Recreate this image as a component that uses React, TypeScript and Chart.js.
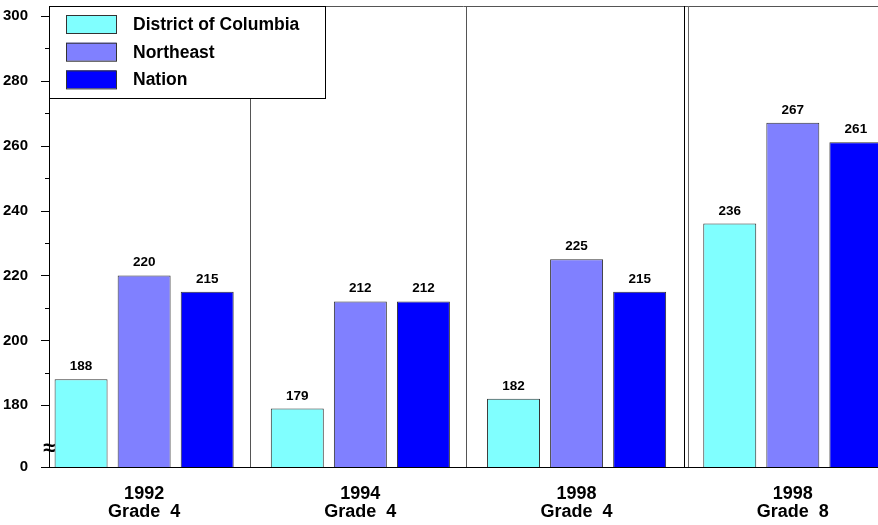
import React, { useEffect, useRef } from "react";
import { Chart, registerables } from "chart.js";

Chart.register(...registerables);

const years = ["1992", "1994", "1998", "1998"];
const grades = ["Grade  4", "Grade  4", "Grade  4", "Grade  8"];
const seriesNames = ["District of Columbia", "Northeast", "Nation"];
const dcValues = [188, 179, 182, 236];
const northeastValues = [220, 212, 225, 267];
const nationValues = [215, 212, 215, 261];
const seriesColors = ["#80FFFF", "#8080FF", "#0000FF"];
const yTickValues = [161, 180, 190, 200, 210, 220, 230, 240, 250, 260, 270, 280, 290, 300];
const yZeroValue = 161;

const FONT = "'Liberation Sans', Arial, Helvetica, sans-serif";

function zeroPadding(scale: any) {
  scale.paddingLeft = 0;
  scale.paddingRight = 0;
  scale.paddingTop = 0;
  scale.paddingBottom = 0;
}

export default function App() {
  const ref = useRef<HTMLCanvasElement | null>(null);

  useEffect(() => {
    document.body.style.margin = "0";
    const canvas = ref.current;
    if (!canvas) return;

    const series = [dcValues, northeastValues, nationValues];

    const decor = {
      id: "decor",
      beforeDatasetsDraw(chart: any) {
        const { ctx, chartArea, scales } = chart;
        const x = scales.x;
        ctx.save();
        ctx.strokeStyle = "#555";
        ctx.lineWidth = 1;
        ctx.beginPath();
        ctx.moveTo(chartArea.left, chartArea.top + 0.5);
        ctx.lineTo(chartArea.right, chartArea.top + 0.5);
        ctx.stroke();
        const seps = [0.5, 1.5, 2.5];
        seps.forEach((s, i) => {
          const px = Math.round(x.getPixelForValue(s)) + 0.5;
          if (i === 2) {
            ctx.strokeStyle = "#000";
            ctx.beginPath();
            ctx.moveTo(px - 1, chartArea.top);
            ctx.lineTo(px - 1, chartArea.bottom);
            ctx.stroke();
            ctx.strokeStyle = "#666";
            ctx.beginPath();
            ctx.moveTo(px + 3, chartArea.top);
            ctx.lineTo(px + 3, chartArea.bottom);
            ctx.stroke();
          } else {
            ctx.strokeStyle = "#555";
            ctx.beginPath();
            ctx.moveTo(px - 2, chartArea.top);
            ctx.lineTo(px - 2, chartArea.bottom);
            ctx.stroke();
          }
        });
        ctx.restore();
      },
      afterDatasetsDraw(chart: any) {
        const { ctx, chartArea, scales } = chart;
        const y = scales.y;
        ctx.save();
        ctx.font = `bold 13.5px ${FONT}`;
        ctx.fillStyle = "#000";
        ctx.textAlign = "center";
        ctx.textBaseline = "alphabetic";
        chart.data.datasets.forEach((ds: any, di: number) => {
          const meta = chart.getDatasetMeta(di);
          meta.data.forEach((bar: any, i: number) => {
            if (bar.x > chartArea.right) return;
            ctx.fillText(String(ds.data[i].y), bar.x, bar.y - 9);
          });
        });
        ctx.strokeStyle = "#000";
        ctx.lineWidth = 1;
        yTickValues.forEach((v) => {
          const py = Math.round(y.getPixelForValue(v)) + 0.5;
          const major = v === yZeroValue || v % 20 === 0;
          ctx.beginPath();
          ctx.moveTo(chartArea.left - (major ? 8 : 4), py);
          ctx.lineTo(chartArea.left, py);
          ctx.stroke();
        });
        ctx.fillStyle = "#000";
        ctx.font = `bold 22px ${FONT}`;
        ctx.textAlign = "center";
        ctx.textBaseline = "middle";
        ctx.fillText("\u2248", chartArea.left, y.getPixelForValue(166.5));
        const lx = chartArea.left, ly = chartArea.top, lw = 276, lh = 92;
        ctx.fillStyle = "#fff";
        ctx.fillRect(lx, ly, lw, lh);
        ctx.strokeStyle = "#000";
        ctx.strokeRect(lx + 0.5, ly + 0.5, lw, lh);
        ctx.font = `bold 17.5px ${FONT}`;
        ctx.textAlign = "left";
        chart.data.datasets.forEach((ds: any, i: number) => {
          const cy = ly + 18 + i * 27.7;
          ctx.fillStyle = ds.backgroundColor;
          ctx.fillRect(lx + 17, cy - 9, 50, 18);
          ctx.strokeStyle = "#333";
          ctx.strokeRect(lx + 17.5, cy - 8.5, 50, 18);
          ctx.fillStyle = "#000";
          ctx.fillText(ds.label, lx + 84, cy + 1);
        });
        ctx.restore();
      },
    };

    const chart = new Chart(canvas, {
      type: "bar",
      data: {
        datasets: series.map((vals, si) => ({
          label: seriesNames[si],
          data: vals.map((v, i) => ({ x: i, y: v })),
          backgroundColor: seriesColors[si],
          borderColor: "#333",
          borderWidth: 1,
          categoryPercentage: 0.875,
          barPercentage: 0.84,
        })),
      },
      options: {
        animation: false,
        responsive: false,
        devicePixelRatio: 1,
        layout: { padding: { top: 6, left: 0, right: 0, bottom: 0 } },
        plugins: { legend: { display: false }, tooltip: { enabled: false } },
        scales: {
          x: {
            type: "linear",
            offset: false,
            min: -0.44,
            max: 3.394,
            afterBuildTicks: (scale: any) => {
              scale.ticks = years.map((_, i) => ({ value: i }));
            },
            afterFit: (scale: any) => {
              scale.height = 58;
              zeroPadding(scale);
            },
            grid: { display: false },
            border: { display: true, color: "#000", width: 1 },
            ticks: {
              autoSkip: false,
              maxRotation: 0,
              padding: 10,
              color: "#000",
              font: { family: FONT, size: 18, weight: "bold", lineHeight: 1.0 },
              callback: (v: any) => [years[v], grades[v]],
            },
          },
          y: {
            type: "linear",
            min: 161,
            max: 303,
            afterBuildTicks: (scale: any) => {
              scale.ticks = yTickValues.map((v) => ({ value: v }));
            },
            afterFit: (scale: any) => {
              scale.width = 49;
              zeroPadding(scale);
            },
            grid: { display: false },
            border: { display: true, color: "#000", width: 1 },
            ticks: {
              autoSkip: false,
              padding: 13,
              color: "#000",
              font: { family: FONT, size: 15, weight: "bold" },
              callback: (v: any) =>
                v === yZeroValue ? "0" : v % 20 === 0 ? String(v) : "",
            },
          },
        },
      },
      plugins: [decor],
    } as any);

    return () => chart.destroy();
  }, []);

  return (
    <div style={{ position: "fixed", left: 0, top: 0, width: 878, height: 525, background: "#fff" }}>
      <canvas ref={ref} width={878} height={525} style={{ width: 878, height: 525 }} />
    </div>
  );
}
